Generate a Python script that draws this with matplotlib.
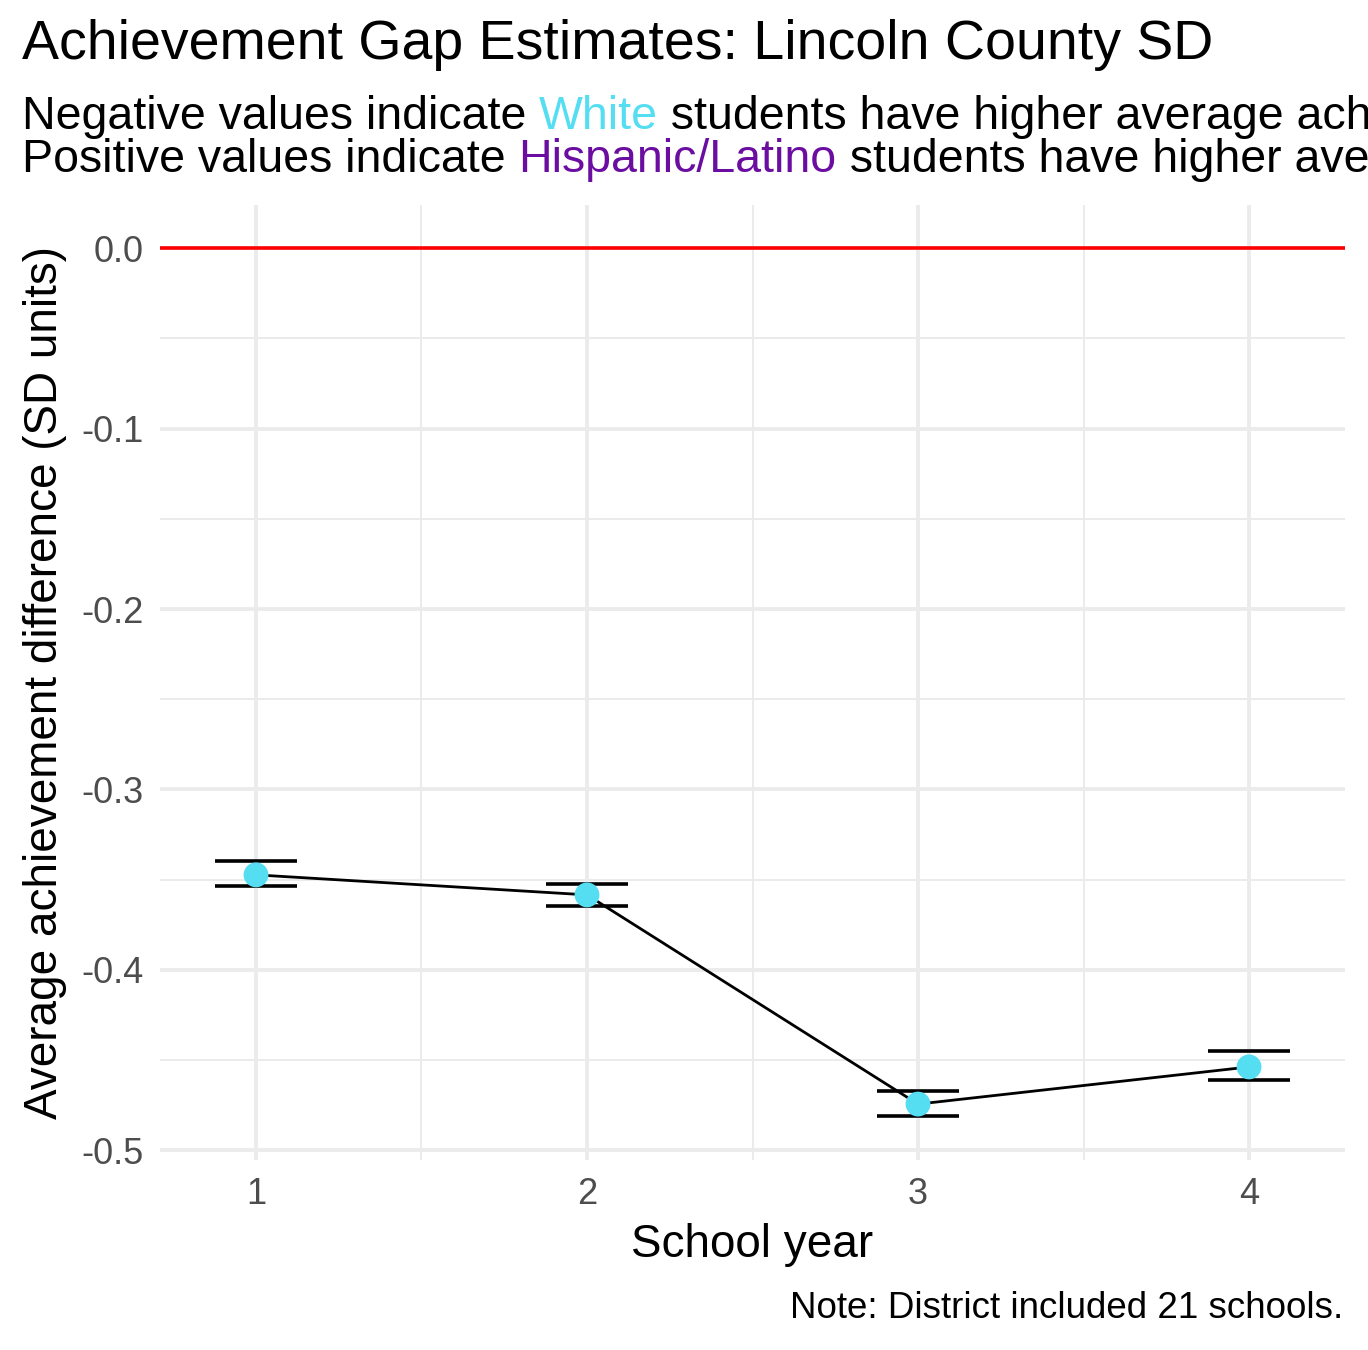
import matplotlib
matplotlib.use("Agg")
import matplotlib.pyplot as plt
from matplotlib.transforms import offset_copy

years = [1, 2, 3, 4]
gap = [-0.3474, -0.3585, -0.4745, -0.4539]
lower = [-0.3535, -0.3646, -0.4811, -0.4610]
upper = [-0.3396, -0.3524, -0.4672, -0.4450]

cyan = "#55DDF2"
purple = "#6A0DA0"

plt.rcParams['font.family'] = ['Arial', 'Liberation Sans', 'DejaVu Sans']
fig = plt.figure(figsize=(13.68, 13.5), dpi=100)
ax = fig.add_axes([160/1368, 1-1160/1350, (1345-160)/1368, (1160-205)/1350])

ax.axhline(0, color="red", lw=2.6, zorder=2)
ax.plot(years, gap, color="black", lw=2.0, zorder=3)
for x, lo, hi in zip(years, lower, upper):
    ax.hlines([lo, hi], x-0.125, x+0.125, color="black", lw=2.6, zorder=3)
ax.scatter(years, gap, s=320, color=cyan, zorder=4, edgecolors="none")

ax.set_xlim(0.71, 4.29)
ax.set_ylim(-0.5055, 0.024)
ax.set_xticks(years)
ax.set_yticks([0, -0.1, -0.2, -0.3, -0.4, -0.5])
ax.set_yticklabels(["0.0", "-0.1", "-0.2", "-0.3", "-0.4", "-0.5"])
ax.set_xticks([1.5, 2.5, 3.5], minor=True)
ax.set_yticks([-0.05, -0.15, -0.25, -0.35, -0.45], minor=True)
ax.grid(which="major", color="#EBEBEB", lw=2.8)
ax.grid(which="minor", color="#EBEBEB", lw=1.4)
ax.set_axisbelow(True)
for s in ax.spines.values():
    s.set_visible(False)
ax.tick_params(which="both", length=0, labelsize=26, colors="#4D4D4D", pad=12)
ax.set_xlabel("School year", fontsize=33, labelpad=8)
ax.set_ylabel("Average achievement difference (SD units)", fontsize=33, labelpad=10)

fig.text(22/1368, 1-45/1350, "Achievement Gap Estimates: Lincoln County SD",
         fontsize=40, va="center", ha="left")

def colored_line(y, parts):
    x = 22/1368
    r = fig.canvas.get_renderer()
    tr = fig.transFigure
    for txt, col in parts:
        tt = fig.text(x, y, txt, color=col, fontsize=33.5, va="center", ha="left", transform=tr)
        w = tt.get_window_extent(renderer=r).width
        tr = offset_copy(tr, fig=fig, x=w, y=0, units="dots")

colored_line(1-117/1350, [("Negative values indicate ", "black"), ("White", cyan),
                          (" students have higher average achievement", "black")])
colored_line(1-160/1350, [("Positive values indicate ", "black"), ("Hispanic/Latino", purple),
                          (" students have higher average achievement", "black")])

fig.text(1343/1368, 1-1308/1350, "Note: District included 21 schools.",
         fontsize=26.5, ha="right", va="center")

fig.savefig("out.png", dpi=100)
